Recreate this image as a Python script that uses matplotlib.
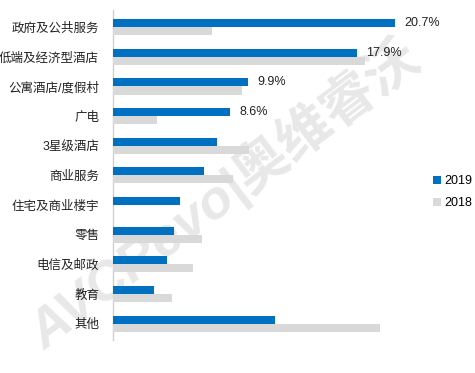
import matplotlib
matplotlib.use("Agg")
import matplotlib.pyplot as plt
import numpy as np

plt.rcParams['font.family'] = ['Liberation Sans', 'Noto Sans CJK SC', 'DejaVu Sans']

categories = ["政府及公共服务", "低端及经济型酒店", "公寓酒店/度假村", "广电", "3星级酒店",
              "商业服务", "住宅及商业楼宇", "零售", "电信及邮政", "教育", "其他"]
v2019 = [20.7, 17.9, 9.9, 8.6, 7.6, 6.7, 4.9, 4.5, 4.0, 3.0, 11.9]
v2018 = [7.3, 18.5, 9.5, 3.2, 10.0, 8.8, 0.0, 6.5, 5.9, 4.3, 19.6]
labels2019 = ["20.7%", "17.9%", "9.9%", "8.6%", "", "", "", "", "", "", ""]

W, H = 475, 373
fig = plt.figure(figsize=(W/100, H/100), dpi=100)
ax = fig.add_axes([113/W, 1-340/H, 300/W, 330/H])
ax.set_zorder(2)
ax.patch.set_alpha(0)

y = np.arange(len(categories))
bh = 0.27
ax.barh(y - bh/2, v2019, height=bh, color='#0070C0', label='2019', zorder=3)
ax.barh(y + bh/2, v2018, height=bh, color='#D9D9D9', label='2018', zorder=3)

for yi, v, lab in zip(y, v2019, labels2019):
    if lab:
        ax.text(v + 0.7, yi - bh/2, lab, va='center', ha='left', fontsize=9, color='#222222')

ax.set_xlim(0, 300/13.62)
ax.set_ylim(len(categories) - 0.5 + 0.05, -0.5 - 0.08)
ax.set_yticks(y)
ax.set_yticklabels(categories, fontsize=9, color='#222222')
ax.tick_params(axis='y', length=0, pad=10)
ax.set_xticks([])
for s in ['top', 'right', 'bottom']:
    ax.spines[s].set_visible(False)
ax.spines['left'].set_color('#D0D0D0')
ax.spines['left'].set_linewidth(1.0)

# watermark
fig.text(0.47, 0.48, "AVCRevo|奥维睿沃", fontsize=39, fontweight='bold', fontstyle='italic',
         color='#D9D9D9', alpha=0.6, rotation=37, ha='center', va='center', zorder=0,
         family=['Liberation Sans', 'Noto Sans CJK SC'])

leg = fig.legend(loc='center left', bbox_to_anchor=(422/W, 1-192/H), frameon=False,
                 fontsize=9, handlelength=0.6, handleheight=0.6, handletextpad=0.3,
                 labelspacing=0.8)
leg.set_zorder(3)

fig.savefig("out.png", dpi=100)
